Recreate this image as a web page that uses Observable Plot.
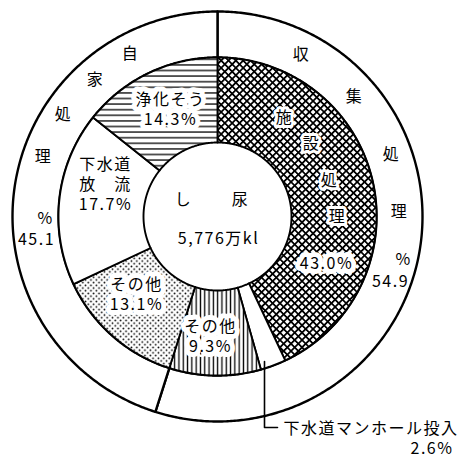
<!DOCTYPE html>
<html><head><meta charset="utf-8">
<script src="https://cdn.jsdelivr.net/npm/d3@7"></script>
<script src="https://cdn.jsdelivr.net/npm/@observablehq/plot@0.6"></script>
<style>body{margin:0;background:#fff}</style>
</head><body><div id="chart"></div>
<script>
// ---- data ----
const innerCategories = ["施設処理", "下水道マンホール投入", "その他", "その他", "下水道\n放　流", "浄化そう"];
const innerValues = [43.0, 2.6, 9.3, 13.1, 17.7, 14.3];
const outerCategories = ["収集処理", "自家処理"];
const outerValues = [54.9, 45.1];
const centerTitle = ["し", "尿"];
const centerTotal = "5,776万kl";

// ---- style / layout ----
const W = 458, CX = 217, CY = 216;
const R_OUT = 205, R_MID = 159, R_IN = 74;
const innerFills = ["url(#pCross)", "white", "url(#pV)", "url(#pDots)", "white", "url(#pH)"];
const FONT = "'Noto Sans CJK JP', sans-serif";

function ringPolys(values, r0, r1) {
  const polys = []; let acc = 0;
  values.forEach((v, i) => {
    const a0 = acc / 100 * 2 * Math.PI, a1 = (acc + v) / 100 * 2 * Math.PI; acc += v;
    const n = Math.max(2, Math.ceil((a1 - a0) / (Math.PI / 360)));
    const pts = [];
    for (let k = 0; k <= n; k++) { const a = a0 + (a1 - a0) * k / n; pts.push({x: r1 * Math.sin(a), y: -r1 * Math.cos(a)}); }
    for (let k = n; k >= 0; k--) { const a = a0 + (a1 - a0) * k / n; pts.push({x: r0 * Math.sin(a), y: -r0 * Math.cos(a)}); }
    polys.push(pts);
  });
  return polys;
}
const outerPolys = ringPolys(outerValues, R_MID, R_OUT);
const innerPolys = ringPolys(innerValues, R_IN, R_MID);

const pct = v => v.toFixed(1) + "%";
// label offsets from chart centre (pixels)
const plainLabels = [];
const outerPos = [
  [[84,-163],[137,-121],[174,-63],[182,-6],[186,42],[173,64]],
  [[-87,-164],[-122,-138],[-154,-103],[-174,-61],[-172,1],[-181,22]]
];
outerCategories.forEach((c, j) => {
  const p = outerPos[j];
  c.split("").forEach((ch, k) => plainLabels.push({t: ch, x: p[k][0], y: p[k][1]}));
  plainLabels.push({t: "%", x: p[4][0], y: p[4][1]});
  plainLabels.push({t: outerValues[j].toFixed(1), x: p[5][0], y: p[5][1]});
});
plainLabels.push({t: centerTitle[0], x: -34, y: -18});
plainLabels.push({t: centerTitle[1], x: 23, y: -18});
plainLabels.push({t: centerTotal, x: 1, y: 21});

const charLabels = [];
const shisetsuPos = [[67,-99],[94,-73],[112,-36],[120,0]];
innerCategories[0].split("").forEach((ch, k) => charLabels.push({t: ch, x: shisetsuPos[k][0], y: shisetsuPos[k][1]}));
const haloLabels = [{t: pct(innerValues[0]), x: 109, y: 46}];
const innerPos = {5: [-47, -108], 4: [-112, -33], 3: [-81, 77], 2: [-7, 119]};
for (const i of [2, 3, 4, 5]) {
  haloLabels.push({t: innerCategories[i] + "\n" + pct(innerValues[i]), x: innerPos[i][0], y: innerPos[i][1]});
}
const annotName = [{t: innerCategories[1], x: 66, y: 212}];
const annotValue = [{t: pct(innerValues[1]), x: 236, y: 232}];
const leader = [{x: 47, y: 145}, {x: 47, y: 211}, {x: 60, y: 211}];

const marks = [];
outerPolys.forEach(p => marks.push(Plot.line(p, {x: "x", y: "y", curve: "linear-closed", fill: "white", stroke: "black", strokeWidth: 2.4})));
innerPolys.forEach((p, i) => marks.push(Plot.line(p, {x: "x", y: "y", curve: "linear-closed", fill: innerFills[i], stroke: "black", strokeWidth: 1.9, strokeLinejoin: "round"})));
marks.push(Plot.line(leader, {x: "x", y: "y", stroke: "black", strokeWidth: 1.6}));
marks.push(Plot.text(plainLabels, {x: "x", y: "y", text: "t", fontSize: 16, fontFamily: FONT, fill: "black", lineHeight: 1.25}));
marks.push(Plot.text(charLabels, {x: "x", y: "y", text: "t", fontSize: 16, fontFamily: FONT, fill: "black", stroke: "white", strokeWidth: 6, strokeLinejoin: "round", paintOrder: "stroke"}));
marks.push(Plot.text(haloLabels, {x: "x", y: "y", text: "t", fontSize: 16, fontFamily: FONT, fill: "black", stroke: "white", strokeWidth: 10, strokeLinejoin: "round", paintOrder: "stroke", lineHeight: 1.25}));
marks.push(Plot.text(annotName, {x: "x", y: "y", text: "t", textAnchor: "start", fontSize: 16, fontFamily: FONT, fill: "black"}));
marks.push(Plot.text(annotValue, {x: "x", y: "y", text: "t", textAnchor: "end", fontSize: 16, fontFamily: FONT, fill: "black"}));

const svg = Plot.plot({
  width: W, height: W, margin: 0,
  x: {domain: [-CX, W - CX], range: [0, W], axis: null},
  y: {domain: [-CY, W - CY], range: [0, W], axis: null},
  style: {background: "white", letterSpacing: "1.5px"},
  marks
});
// patterns
const defs = document.createElementNS("http://www.w3.org/2000/svg", "defs");
defs.innerHTML = `
<pattern id="pCross" width="5.2" height="5.2" patternUnits="userSpaceOnUse" patternTransform="rotate(45)">
  <rect width="5.2" height="5.2" fill="white"/>
  <path d="M0 0.9H5.2M0.9 0V5.2" stroke="black" stroke-width="1.8"/>
</pattern>
<pattern id="pH" width="6" height="5.6" patternUnits="userSpaceOnUse">
  <rect width="6" height="5.6" fill="white"/>
  <path d="M0 2.8H6" stroke="black" stroke-width="1.3"/>
</pattern>
<pattern id="pV" width="4.3" height="6" patternUnits="userSpaceOnUse">
  <rect width="4.3" height="6" fill="white"/>
  <path d="M2.15 0V6" stroke="black" stroke-width="1.3"/>
</pattern>
<pattern id="pDots" width="5.4" height="5.4" patternUnits="userSpaceOnUse">
  <rect width="5.4" height="5.4" fill="white"/>
  <circle cx="1.35" cy="1.35" r="0.9" fill="black"/>
  <circle cx="4.05" cy="4.05" r="0.9" fill="black"/>
</pattern>`;
svg.insertBefore(defs, svg.firstChild);
document.getElementById("chart").appendChild(svg);
</script>
</body></html>
